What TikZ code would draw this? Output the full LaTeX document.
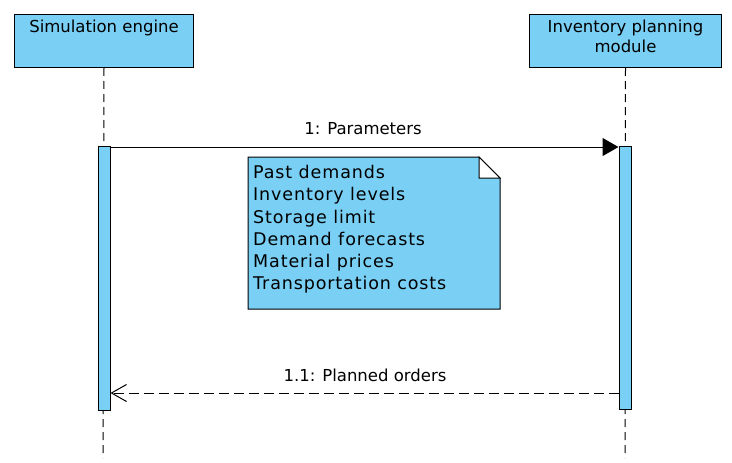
\documentclass[tikz,border=0pt]{standalone}
\usepackage{fontspec}
\setmainfont{DejaVu Sans}
\newfontfamily\notefont[LetterSpace=5]{DejaVu Sans}
\usetikzlibrary{arrows.meta}

\definecolor{lifeblue}{RGB}{122,207,245}

\tikzset{
  actorbox/.style={draw, fill=lifeblue, line width=1pt, anchor=north west, minimum height=53pt, inner sep=0pt},
  actortext/.style={anchor=north, align=center, inner sep=0pt, font=\fontsize{16.5}{20}\selectfont},
  activation/.style={draw, fill=lifeblue, line width=1pt, minimum width=12pt, anchor=north, inner sep=0pt},
  lifeline/.style={line width=1pt, dash pattern=on 8pt off 5pt},
  msgcall/.style={line width=1pt, -{Triangle[length=16pt,width=18pt]}},
  msgreturn/.style={line width=1pt, dash pattern=on 10pt off 5pt, -{Straight Barb[length=15pt,width=17pt,line width=1pt]}},
  msglabel/.style={inner sep=0pt, font=\fontsize{16.5}{20}\selectfont},
}

\begin{document}
\begin{tikzpicture}[x=1pt,y=1pt,yscale=-1]
\useasboundingbox (0,0) rectangle (732,463);

% actors
\node[actorbox, minimum width=179pt] (sim) at (14,14) {};
\node[actortext] (simtext) at ([yshift=6pt]sim.north) {Simulation engine};
\node[actorbox, minimum width=192pt] (inv) at (529,14) {};
\node[actortext] (invtext) at ([yshift=6pt]inv.north) {Inventory planning\\module};

% lifelines
\coordinate (simend) at (103,458);
\coordinate (invend) at (625,458);
\draw[lifeline] (sim.south) -- (simend);
\draw[lifeline] (inv.south) -- (invend);

% activations
\node[activation, minimum height=264pt] (simact) at (104,146) {};
\node[activation, minimum height=263pt] (invact) at (625,146) {};

% messages
\coordinate (m1) at (0,147);
\coordinate (m2) at (0,393);
\draw[msgcall] (simact.east |- m1) -- (invact.west |- m1);
\node[msglabel] (m1label) at (363,129) {1: Parameters};
\draw[msgreturn] (invact.west |- m2) -- (simact.east |- m2);
\node[msglabel] (m2label) at (365,375) {1.1: Planned orders};

% note
\draw[line width=1pt, fill=lifeblue] (248,157) -- (479,157) -- (500,178) -- (500,309) -- (248,309) -- cycle;
\draw[line width=1pt, fill=white] (479,157) -- (479,178) -- (500,178) -- cycle;
\node[anchor=north west, align=left, inner sep=0pt, font=\notefont\fontsize{17.5}{22.3}\selectfont] (params) at (253,165)
  {Past demands\\Inventory levels\\Storage limit\\Demand forecasts\\Material prices\\Transportation costs};

\end{tikzpicture}
\end{document}
